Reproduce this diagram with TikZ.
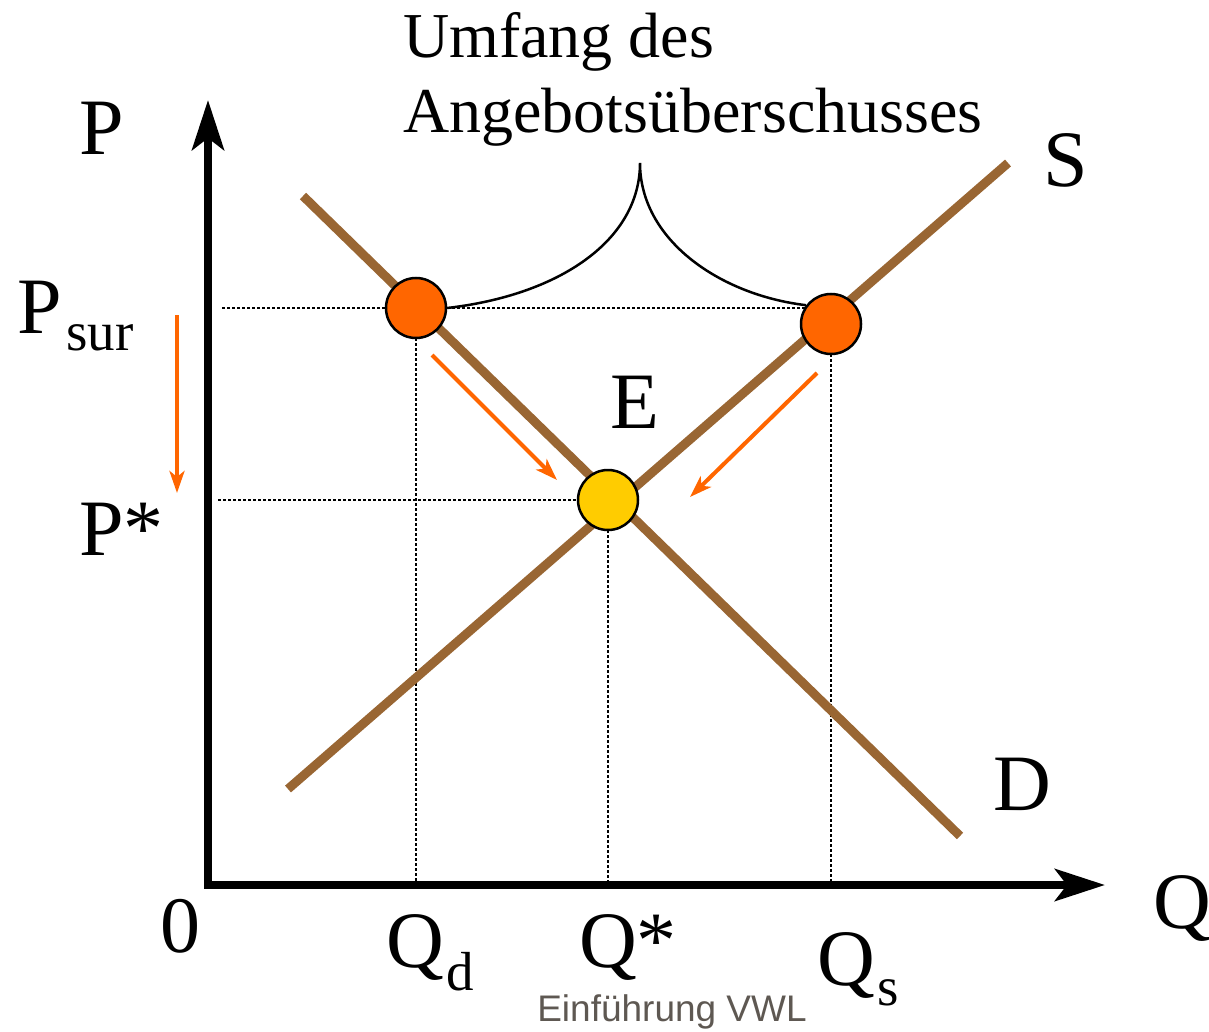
\documentclass[tikz,border=0pt]{standalone}
\usepackage{fontspec}
\setmainfont{Liberation Serif}
\newfontfamily\wmsans{Liberation Sans}
\usetikzlibrary{arrows.meta}
\definecolor{curvebrown}{HTML}{996633}
\definecolor{dotorange}{HTML}{FF6600}
\definecolor{dotyellow}{HTML}{FFCC00}
\definecolor{wmgray}{HTML}{5E5852}
\tikzset{
  axisline/.style={line width=8pt,-{Stealth[length=50pt,width=32pt,inset=12pt]}},
  curveline/.style={curvebrown,line width=9pt},
  guide/.style={line width=2pt,dash pattern=on 2.5pt off 2.5pt},
  pointdot/.style={circle,draw=black,line width=2.5pt,minimum size=60pt,inner sep=0pt},
  movearrow/.style={dotorange,line width=4pt,-{Stealth[length=22pt,width=15pt,inset=6pt]}},
  biglabel/.style={anchor=base west,inner sep=0pt,font=\fontsize{80}{90}\selectfont},
  sublabel/.style={anchor=base west,inner sep=0pt,font=\fontsize{55}{60}\selectfont},
  titlelabel/.style={anchor=base west,inner sep=0pt,font=\fontsize{64}{70}\selectfont},
}
\begin{document}
\begin{tikzpicture}[x=1pt,y=-1pt]
\useasboundingbox (0,0) rectangle (1209,1032);
% coordinates
\coordinate (origin) at (208,885);
\coordinate (ytop) at (208,100);
\coordinate (xend) at (1105,885);
\coordinate (dstart) at (303,196);
\coordinate (dend) at (960,836);
\coordinate (sstart) at (288,789);
\coordinate (send) at (1008,163);
\coordinate (psurl) at (222,308);
\coordinate (pstarl) at (218,500);
\coordinate (qdb) at (416,885);
\coordinate (qstarb) at (608,885);
\coordinate (qsb) at (831,885);
\coordinate (peak) at (640,163);
% guides
\draw[guide] (psurl) -- (831,308);
\draw[guide] (pstarl) -- (608,500);
\draw[guide] (416,308) -- (qdb);
\draw[guide] (608,500) -- (qstarb);
\draw[guide] (831,324) -- (qsb);
% curves
\draw[curveline] (dstart) -- (dend);
\draw[curveline] (sstart) -- (send);
% axes
\draw[axisline] (origin) -- (ytop);
\draw[axisline] ([xshift=-4pt]origin) -- (xend);
% points
\node[pointdot,fill=dotorange] (lc) at (416,308) {};
\node[pointdot,fill=dotorange] (rc) at (831,324) {};
\node[pointdot,fill=dotyellow] (ec) at (608,500) {};
% brace
\draw[line width=2.5pt] (lc.east) .. controls (560,295) and (640,240) .. (peak)
  .. controls (640,240) and (720,295) .. (rc.143);
% movement arrows
\coordinate (a1s) at (432,355); \coordinate (a1e) at (557,480);
\coordinate (a2s) at (817,373); \coordinate (a2e) at (690,497);
\coordinate (a3s) at (177,315); \coordinate (a3e) at (177,493);
\draw[movearrow] (a1s) -- (a1e);
\draw[movearrow] (a2s) -- (a2e);
\draw[movearrow] (a3s) -- (a3e);
% labels
\node[titlelabel] (t1) at (403,58) {Umfang des};
\node[titlelabel] (t2) at (403,133) {Angebotsüberschusses};
\node[biglabel] (lp) at (79,155) {P};
\node[biglabel] (ls) at (1043,187) {S};
\node[biglabel] (lpsur) at (17,333) {P};
\node[sublabel] (lpsursub) at (66,350) {sur};
\node[biglabel] (lpstar) at (79,555) {P*};
\node[biglabel] (le) at (610,428) {E};
\node[biglabel] (ld) at (993,810) {D};
\node[biglabel] (lq) at (1153,928) {Q};
\node[biglabel] (lzero) at (160,952) {0};
\node[biglabel] (lqd) at (386,967) {Q};
\node[sublabel] (lqdsub) at (446,990) {d};
\node[biglabel] (lqstar) at (579,967) {Q*};
\node[biglabel] (lqs) at (817,985) {Q};
\node[sublabel] (lqssub) at (877,1005) {s};
\node[inner sep=0pt,text=wmgray,font=\wmsans\fontsize{37}{40}\selectfont] (wm) at (672,1012) {Einführung VWL};
\end{tikzpicture}
\end{document}
